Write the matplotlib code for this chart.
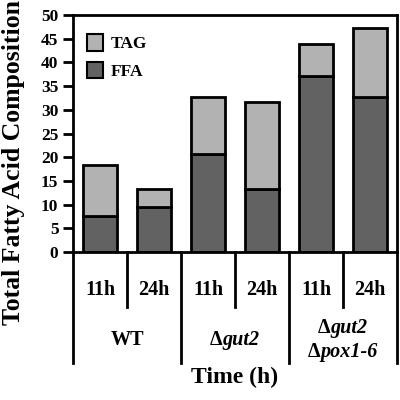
import matplotlib
matplotlib.use("Agg")
import matplotlib.pyplot as plt
from matplotlib.patches import Patch
import matplotlib.transforms as mtransforms

plt.rcParams['font.family'] = ['Liberation Serif', 'DejaVu Serif']
plt.rcParams['font.weight'] = 'bold'

# Data
times = ['11h', '24h', '11h', '24h', '11h', '24h']
strains = [['WT'], ['Δ', 'gut2'], ['Δ', 'gut2', 'Δ', 'pox1-6']]
ffa = [7.6, 9.5, 20.6, 13.3, 37.1, 32.7]
total = [18.4, 13.3, 32.7, 31.6, 43.9, 47.3]
tag = [t - f for t, f in zip(total, ffa)]

tag_color = '#b2b2b2'
ffa_color = '#626262'

fig = plt.figure(figsize=(4, 4), dpi=100)
ax = fig.add_axes([0.1825, 0.37, 0.81, 0.5925])

x = list(range(len(times)))
w = 0.64
ax.bar(x, ffa, w, color=ffa_color, edgecolor='black', linewidth=2)
ax.bar(x, tag, w, bottom=ffa, color=tag_color, edgecolor='black', linewidth=2)

ax.set_xlim(-0.5, 5.5)
ax.set_ylim(0, 50)
ax.set_yticks(range(0, 51, 5))
ax.set_xticks([])
ax.tick_params(axis='y', direction='out', length=7.5, width=2, labelsize=12.5, pad=3)
for s in ax.spines.values():
    s.set_linewidth(2)

fig.text(0.035, 0.594, 'Total Fatty Acid Composition', rotation=90,
         ha='center', va='center', fontsize=18.5, fontweight='bold')

handles = [Patch(facecolor=tag_color, edgecolor='black', linewidth=1.5, label='TAG'),
           Patch(facecolor=ffa_color, edgecolor='black', linewidth=1.5, label='FFA')]
ax.legend(handles=handles, loc='upper left', bbox_to_anchor=(0.0, 0.979),
          frameon=False, fontsize=12.5,
          handlelength=0.95, handleheight=1.1, handletextpad=0.4, labelspacing=0.55,
          borderaxespad=0.5, borderpad=0.3)

# category table below the axis
trans = mtransforms.blended_transform_factory(ax.transData, ax.transAxes)
for i in range(len(times) + 1):
    xv = i - 0.5
    y_end = -0.468 if i % 2 == 0 else -0.232
    ax.plot([xv, xv], [0, y_end], color='black', lw=2, transform=trans, clip_on=False)

for xi, t in zip(x, times):
    ax.text(xi, -0.16, t, transform=trans, ha='center', va='center', fontsize=14.5)

renderer = fig.canvas.get_renderer()


def delta_label(xc, yc, name, size):
    # upright delta followed by italic gene name, centred as one piece
    t1 = ax.text(xc, yc, 'Δ', transform=trans, ha='left', va='center', fontsize=size)
    t2 = ax.text(xc, yc, name, transform=trans, ha='left', va='center',
                 fontsize=size, fontstyle='italic')
    w1 = t1.get_window_extent(renderer).width
    w2 = t2.get_window_extent(renderer).width
    left = -(w1 + w2) / 2
    t1.set_transform(trans + mtransforms.Affine2D().translate(left, 0))
    t2.set_transform(trans + mtransforms.Affine2D().translate(left + w1, 0))


ax.text(0.5, -0.372, strains[0][0], transform=trans, ha='center', va='center', fontsize=14.5)
delta_label(2.5, -0.372, strains[1][1], 14.5)
delta_label(4.5, -0.32, strains[2][1], 14.5)
delta_label(4.5, -0.42, strains[2][3], 14.5)

ax.text(2.5, -0.53, 'Time (h)', transform=trans, ha='center', va='center', fontsize=17)

fig.savefig('out.png', dpi=100)
